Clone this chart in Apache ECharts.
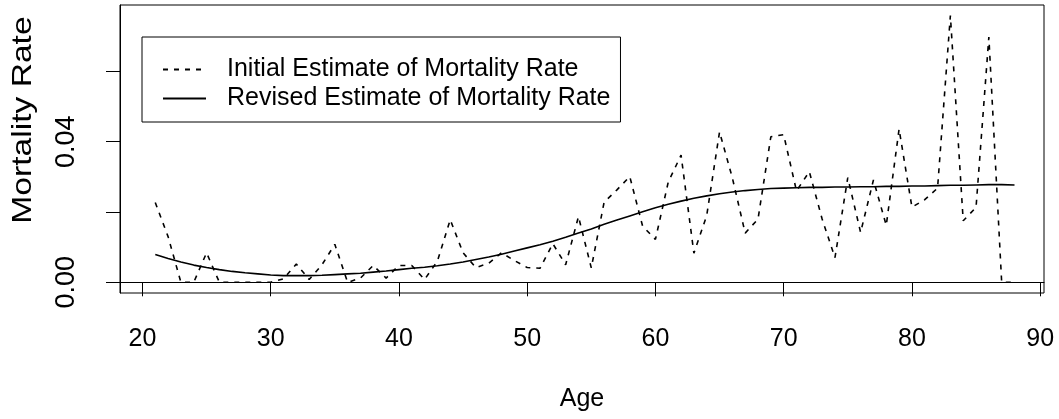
<!DOCTYPE html>
<html>
<head>
<meta charset="utf-8">
<script src="https://cdn.jsdelivr.net/npm/echarts@6/dist/echarts.min.js"></script>
<style>
  html, body { margin: 0; padding: 0; background: #fff; }
  #chart { width: 1059px; height: 419px; }
</style>
</head>
<body>
<div id="chart"></div>
<script>
// ages 21..88
var ages = [21, 22, 23, 24, 25, 26, 27, 28, 29, 30,
  31, 32, 33, 34, 35, 36, 37, 38, 39, 40,
  41, 42, 43, 44, 45, 46, 47, 48, 49, 50,
  51, 52, 53, 54, 55, 56, 57, 58, 59, 60,
  61, 62, 63, 64, 65, 66, 67, 68, 69, 70,
  71, 72, 73, 74, 75, 76, 77, 78, 79, 80,
  81, 82, 83, 84, 85, 86, 87, 88];

// dashed line (raw estimate)
var initialRate = [0.0227, 0.0130, 0.0000, 0.0000, 0.0084, 0.0000, 0.0000, 0.0000, 0.0000, 0.0000,
  0.0010, 0.0052, 0.0008, 0.0050, 0.0108, 0.0000, 0.0012, 0.0048, 0.0012, 0.0048,
  0.0048, 0.0008, 0.0060, 0.0178, 0.0084, 0.0042, 0.0054, 0.0084, 0.0062, 0.0042,
  0.0040, 0.0110, 0.0050, 0.0187, 0.0041, 0.0228, 0.0263, 0.0301, 0.0160, 0.0122,
  0.0285, 0.0362, 0.0083, 0.0190, 0.0428, 0.0297, 0.0140, 0.0180, 0.0414, 0.0420,
  0.0260, 0.0315, 0.0180, 0.0070, 0.0298, 0.0142, 0.0291, 0.0162, 0.0436, 0.0214,
  0.0235, 0.0268, 0.0759, 0.0175, 0.0213, 0.0698, 0.0000, 0.0000];

// solid line (smoothed estimate)
var revisedRate = [0.0079, 0.0068, 0.0058, 0.0049, 0.0042, 0.0036, 0.0031, 0.0027, 0.0024, 0.0021,
  0.0019, 0.0019, 0.0019, 0.0020, 0.0022, 0.0024, 0.0026, 0.0029, 0.0032, 0.0036,
  0.0040, 0.0043, 0.0047, 0.0052, 0.0058, 0.0065, 0.0072, 0.0080, 0.0089, 0.0098,
  0.0107, 0.0117, 0.0128, 0.0140, 0.0152, 0.0165, 0.0177, 0.0189, 0.0201, 0.0212,
  0.0222, 0.0231, 0.0239, 0.0246, 0.0252, 0.0257, 0.0261, 0.0264, 0.0267, 0.0268,
  0.0269, 0.0270, 0.0270, 0.0271, 0.0271, 0.0272, 0.0272, 0.0273, 0.0273, 0.0274,
  0.0274, 0.0275, 0.0276, 0.0276, 0.0277, 0.0278, 0.0278, 0.0277];

var xTicks = [20, 30, 40, 50, 60, 70, 80, 90];
var yTicks = [0, 0.02, 0.04, 0.06];
var yTickLabels = [0, 0.04];   // R dropped the overlapping ones

var font = 'Liberation Sans, Arial, sans-serif';

function pairs(ys) {
  return ages.map(function (a, i) { return [a, ys[i]]; });
}

var chart = echarts.init(document.getElementById('chart'));
chart.setOption({
  animation: false,
  backgroundColor: '#fff',
  grid: {
    left: 120, top: 5, width: 924, height: 288,
    show: true, borderColor: '#000', borderWidth: 1
  },
  legend: {
    orient: 'vertical',
    left: 142, top: 37,
    padding: [20, 10, 11, 20],
    itemGap: 4,
    itemWidth: 43,
    itemHeight: 10,
    borderColor: '#000',
    borderWidth: 1,
    itemStyle: { color: 'rgba(0,0,0,0)', borderWidth: 0 },
    textStyle: { fontFamily: font, fontSize: 25, color: '#000', lineHeight: 25, padding: [0, 0, 0, 16] },
    data: ['Initial Estimate of Mortality Rate', 'Revised Estimate of Mortality Rate']
  },
  xAxis: {
    type: 'value',
    min: 18.25, max: 90.3,
    name: 'Age',
    nameLocation: 'middle',
    nameGap: 94,
    nameTextStyle: { fontFamily: font, fontSize: 25, color: '#000' },
    axisLine: { show: true, lineStyle: { color: '#000' } },
    axisTick: { show: true, length: 14, customValues: xTicks, lineStyle: { color: '#000' } },
    axisLabel: {
      customValues: xTicks, margin: 34,
      fontFamily: font, fontSize: 25, color: '#000'
    },
    splitLine: { show: false }
  },
  yAxis: {
    type: 'value',
    min: -0.00304, max: 0.0789,
    axisLine: { show: true, lineStyle: { color: '#000' } },
    axisTick: { show: true, length: 14, customValues: yTicks, lineStyle: { color: '#000' } },
    axisLabel: {
      customValues: yTickLabels, margin: 40, rotate: 90,
      fontFamily: font, fontSize: 27, color: '#000',
      formatter: function (v) { return v.toFixed(2); }
    },
    splitLine: { show: false }
  },
  graphic: [{
    type: 'text',
    x: 23, y: 120,
    rotation: Math.PI / 2,
    scaleX: 1.2,
    style: {
      text: 'Mortality Rate',
      fontFamily: font, fontSize: 28, fill: '#000',
      align: 'center', verticalAlign: 'middle'
    }
  }],
  series: [{
    name: 'Initial Estimate of Mortality Rate',
    type: 'line',
    data: pairs(initialRate),
    symbol: 'none',
    lineStyle: { color: '#000', width: 1.6, type: [5, 6] },
    itemStyle: { color: '#000' }
  }, {
    name: 'Revised Estimate of Mortality Rate',
    type: 'line',
    data: pairs(revisedRate),
    symbol: 'none',
    lineStyle: { color: '#000', width: 1.6 },
    itemStyle: { color: '#000' }
  }]
});
</script>
</body>
</html>
